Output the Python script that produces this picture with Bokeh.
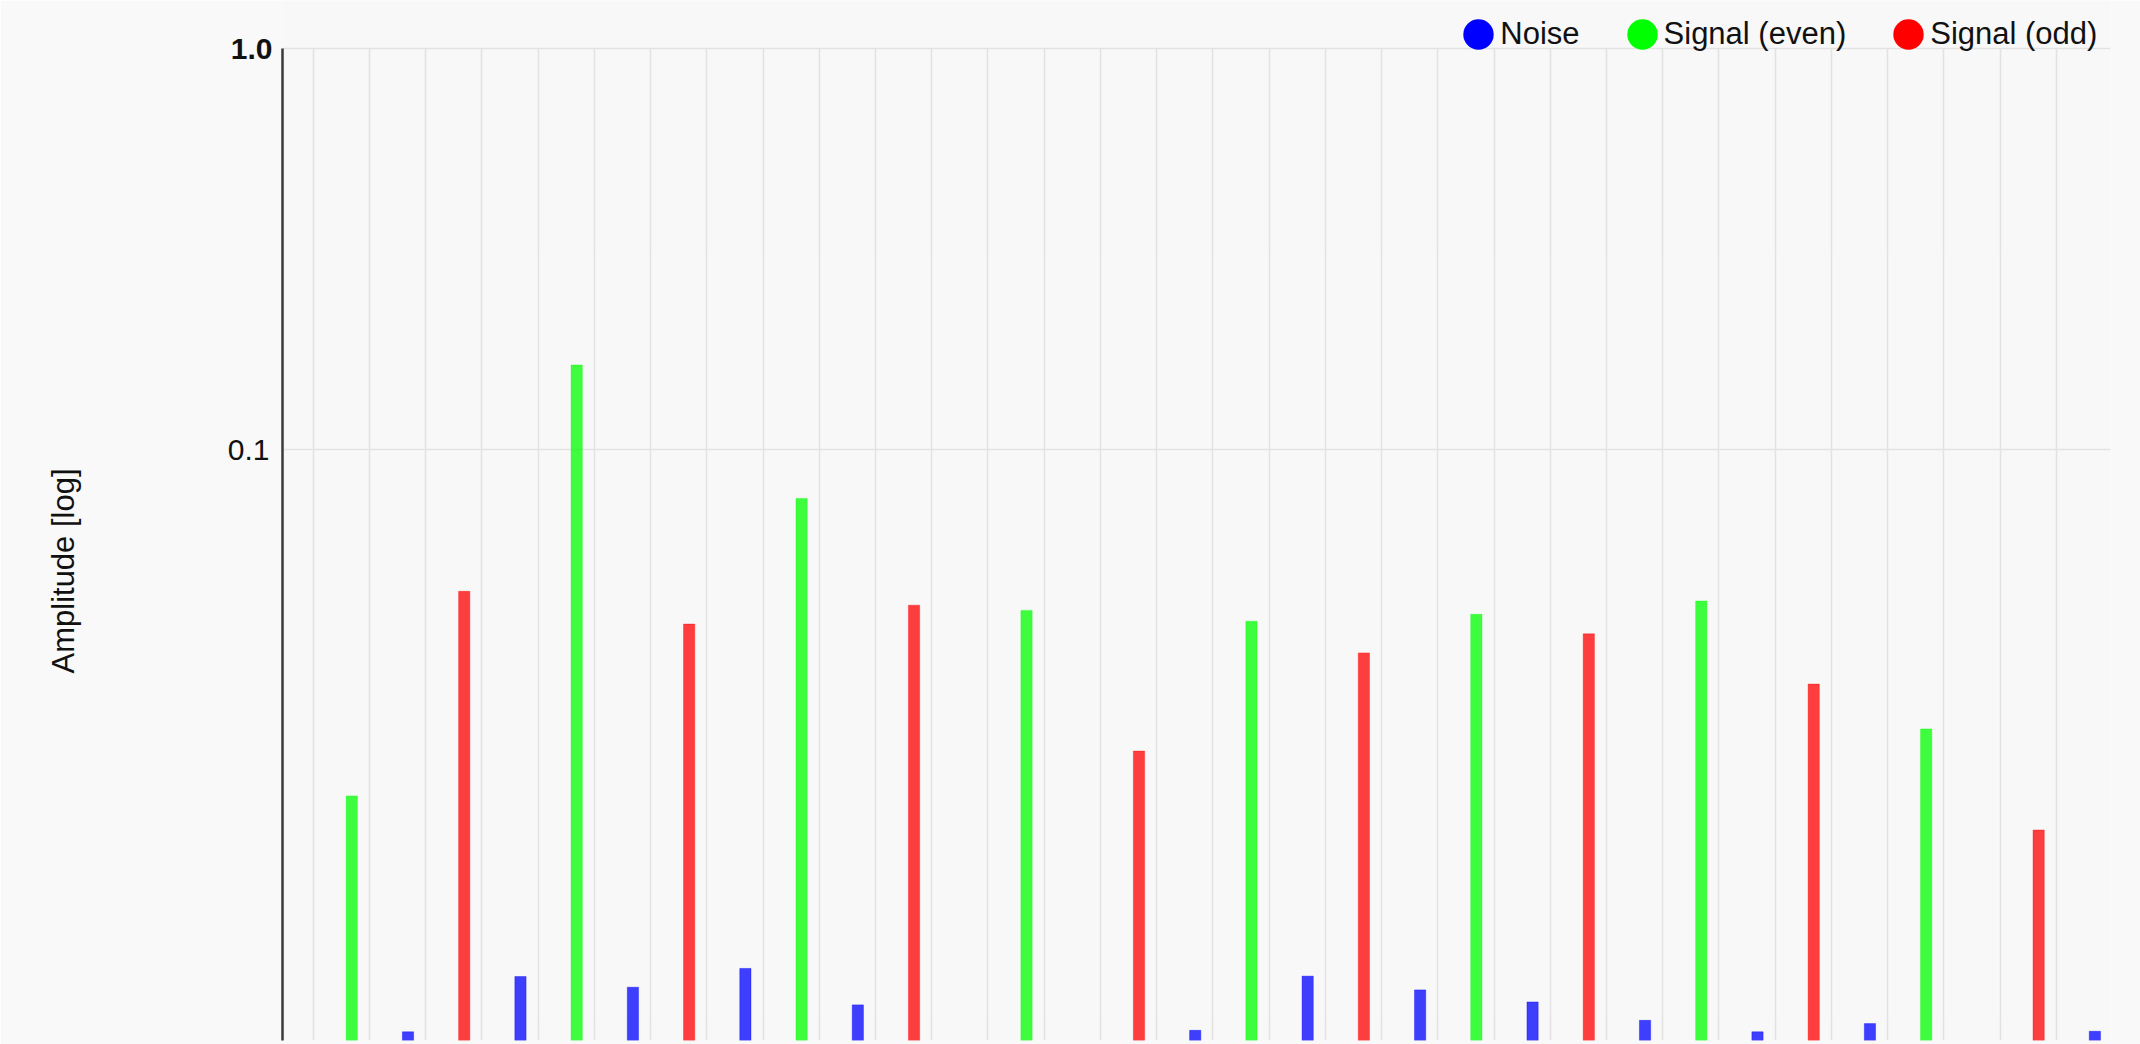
import numpy as np
from bokeh.plotting import figure
from bokeh.models import Range1d, FixedTicker, Grid, Legend, LegendItem, LogAxis, Title
from bokeh.embed import file_html
from bokeh.resources import INLINE

NaN = float("nan")

# ---------------- data ----------------
series_names = ["Noise", "Signal (even)", "Signal (odd)"]
series_colors = ["#0000ff", "#00ff00", "#ff0000"]

noise_bins = list(range(1, 32, 2))
noise_vals = [0.00353, 0.00485, 0.00456, 0.00508, 0.00412, NaN, NaN, 0.00356,
              0.00486, 0.00449, 0.00419, 0.00377, 0.00353, 0.00370, NaN, 0.00354]

even_bins = list(range(0, 32, 4))
even_vals = [0.01368, 0.1625, 0.0755, 0.0397, 0.0373, 0.0388, 0.0419, 0.0201]

odd_bins = list(range(2, 32, 4))
odd_vals = [0.0443, 0.0367, 0.0409, 0.0177, 0.0311, 0.0347, 0.0260, 0.01125]

major_tick = [1.0]
minor_tick = [0.1]
Y_MIN = 0.003358      # bottom of the value axis
Y_MAX = 1.0           # top of the value axis
Y_END = 1.3177        # range head-room above the axis for the legend row
X_START, X_END = -1.232, 31.278

FONT = "Liberation Sans"
TEXT = "#111111"

p = figure(width=2140, height=1044, output_backend="svg", toolbar_location=None,
           y_axis_type="log", x_axis_location=None,
           x_range=Range1d(X_START, X_END), y_range=Range1d(Y_MIN, Y_END),
           min_border_left=282, min_border_right=30, min_border_top=0, min_border_bottom=4)
p.border_fill_color = "#f9f9f9"
p.background_fill_color = "#f8f8f8"
p.outline_line_color = None

# grids
for g in p.xgrid:
    g.visible = False
xgrid = Grid(dimension=0, ticker=FixedTicker(ticks=[i - 0.686 for i in range(33)]),
             cross_bounds=(Y_MIN, Y_MAX),
             grid_line_color="#e2e2e2", grid_line_width=1.5)
p.add_layout(xgrid)
p.ygrid.ticker = FixedTicker(ticks=major_tick + minor_tick)
p.ygrid.grid_line_color = "#e2e2e2"
p.ygrid.grid_line_width = 1.5

# y axis (closest to frame): bold "1.0"
ax = p.yaxis[0]
ax.bounds = (Y_MIN, Y_MAX)
ax.ticker = FixedTicker(ticks=major_tick)
ax.major_label_overrides = {1.0: "1.0"}
ax.major_tick_line_color = None
ax.minor_tick_line_color = None
ax.major_tick_out = 0
ax.major_label_standoff = 10
ax.major_label_text_font = FONT
ax.major_label_text_font_size = "30px"
ax.major_label_text_font_style = "bold"
ax.major_label_text_color = TEXT
ax.axis_line_color = "#3a3a3a"
ax.axis_line_width = 2.5

# second left axis carries the normal "0.1" label,
# pulled back next to the frame with a negative standoff
ax2 = LogAxis(ticker=FixedTicker(ticks=minor_tick), major_label_overrides={0.1: "0.1"},
              bounds=(Y_MIN, Y_MAX),
              axis_line_color=None, major_tick_line_color=None, minor_tick_line_color=None,
              major_tick_out=0, major_tick_in=0, minor_tick_out=0, minor_tick_in=0,
              major_label_standoff=-42,
              major_label_text_font=FONT, major_label_text_font_size="30px",
              major_label_text_color=TEXT)
p.add_layout(ax2, "left")

# unlabelled spacer axis (invisible tick) moves the axis title away from the tick labels
spacer = LogAxis(ticker=FixedTicker(ticks=minor_tick), major_label_overrides={0.1: ""},
                 bounds=(Y_MIN, Y_MAX), axis_line_color=None,
                 major_tick_line_color=None, minor_tick_line_color=None,
                 major_tick_out=139, major_tick_in=0, minor_tick_out=0, minor_tick_in=0,
                 major_label_standoff=0, major_label_text_font_size="1px")
p.add_layout(spacer, "left")

# axis title (vertical, placed below the centre like the original)
p.add_layout(Title(text="Amplitude [log]", align="left", offset=367, standoff=10,
                   text_font=FONT, text_font_size="31px", text_font_style="normal",
                   text_color=TEXT), "left")

# bars
BAR_W = 0.2
for bins, vals, col in [(noise_bins, noise_vals, series_colors[0]),
                        (even_bins, even_vals, series_colors[1]),
                        (odd_bins, odd_vals, series_colors[2])]:
    p.vbar(x=bins, top=vals, bottom=1e-4, width=BAR_W, fill_color=col, fill_alpha=0.75,
           line_color=col, line_alpha=0.35, line_width=1)

# legend (circle markers) in the head-room row
items = []
for name, col in zip(series_names, series_colors):
    r = p.ellipse(x=[NaN], y=[NaN], width=30, height=30, width_units="screen",
                  height_units="screen", fill_color=col, line_color=None)
    items.append(LegendItem(label=name, renderers=[r]))
legend = Legend(items=items, orientation="horizontal", location=(1177.3, 987),
                glyph_width=38, glyph_height=38, label_standoff=3, spacing=43,
                padding=0, margin=0, background_fill_alpha=0, border_line_color=None,
                label_text_font=FONT, label_text_font_size="31px", label_text_color=TEXT)
p.add_layout(legend)

open("out.html", "w").write(file_html(p, INLINE))
